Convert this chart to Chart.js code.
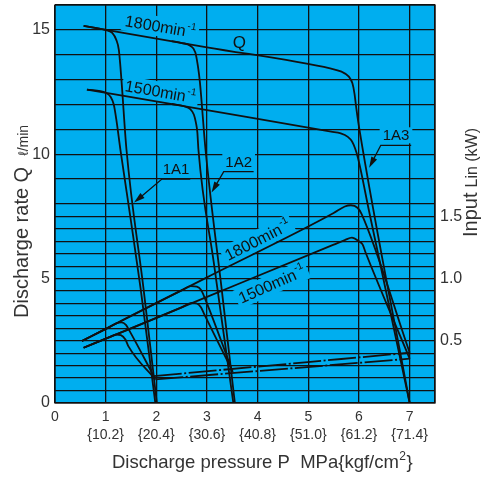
<!DOCTYPE html>
<html>
<head>
<meta charset="utf-8">
<script src="https://cdn.jsdelivr.net/npm/chart.js@4.4.1/dist/chart.umd.min.js"></script>
<style>
  html, body { margin: 0; padding: 0; background: #fff; }
</style>
</head>
<body>
<canvas id="myChart" width="483" height="477"></canvas>
<script>
// tick labels
const pressureTicks = [0, 1, 2, 3, 4, 5, 6, 7];
const kgfLabels = ["10.2", "20.4", "30.6", "40.8", "51.0", "61.2", "71.4"];
const flowTicks = [0, 5, 10, 15];
const inputTicks = [0.5, 1.0, 1.5];

// discharge rate Q (l/min) against pressure P (MPa), [P, Q]
const q1800 = [[0.565, 15.16], [3.0, 14.3], [5.45, 13.44], [5.64, 13.33], [5.8, 13.12], [5.87, 12.85], [5.91, 12.45], [5.95, 11.8], [6.0, 11.1], [7.0, 0]];
const q1500 = [[0.63, 12.6], [3.0, 11.77], [5.45, 10.91], [5.64, 10.84], [5.78, 10.7], [5.86, 10.52], [5.92, 10.25], [5.98, 9.85], [6.2, 7.7], [7.0, 0]];
const q1800a1 = [[0.565, 15.16], [0.99, 15.0], [1.13, 14.88], [1.21, 14.6], [1.26, 14.2], [1.29, 13.55], [1.32, 12.75], [1.41, 10.2], [1.75, 4.55], [2.01, 0]];
const q1500a1 = [[0.63, 12.6], [1.0, 12.47], [1.1, 12.3], [1.16, 12.0], [1.21, 11.4], [1.29, 10.2], [1.5, 7.3], [1.69, 4.6], [1.98, 0]];
const q1800a2 = [[2.3, 14.55], [2.5, 14.47], [2.67, 14.36], [2.77, 14.09], [2.82, 13.55], [2.86, 12.9], [2.97, 10.2], [3.3, 4.4], [3.55, 0]];
const q1500a2 = [[2.3, 12.02], [2.55, 11.93], [2.67, 11.81], [2.74, 11.6], [2.78, 11.28], [2.81, 10.87], [2.83, 10.2], [3.13, 5.7], [3.52, 0]];

// input Lin (kW) against pressure P (MPa), [P, kW]
const in1800 = [[0.53, 0.498], [3.0, 1.01], [5.5, 1.527], [5.72, 1.58], [5.84, 1.59], [5.97, 1.57], [6.05, 1.52], [7.0, 0.404]];
const in1500 = [[0.565, 0.444], [3.0, 0.853], [5.5, 1.273], [5.72, 1.31], [5.86, 1.33], [6.0, 1.30], [6.07, 1.275], [6.13, 1.21], [7.0, 0.356]];
const in1800a1 = [[0.53, 0.498], [1.1, 0.616], [1.22, 0.643], [1.31, 0.648], [1.4, 0.628], [1.49, 0.566], [1.95, 0.216]];
const in1500a1 = [[0.565, 0.444], [1.1, 0.534], [1.2, 0.55], [1.3, 0.545], [1.39, 0.51], [1.45, 0.455], [1.98, 0.19]];
const in1800a2 = [[0.53, 0.498], [2.5, 0.906], [2.68, 0.94], [2.8, 0.935], [2.88, 0.91], [2.95, 0.85], [3.48, 0.28]];
const in1500a2 = [[0.565, 0.444], [2.5, 0.769], [2.7, 0.805], [2.8, 0.8], [2.88, 0.77], [2.95, 0.71], [3.51, 0.25]];
const dead1800 = [[1.95, 0.216], [7.0, 0.404]];
const dead1500 = [[1.98, 0.19], [7.0, 0.356]];

const plotBlue = "#00aeef";
const ink = "#111";
const textInk = "#333";
const family = '"Liberation Sans", Arial, Helvetica, sans-serif';

// horizontal grid: every 0.5 up to 8, then every 1
const flowGrid = [];
for (let v = 0; v <= 8; v += 0.5) flowGrid.push(v);
for (let v = 9; v <= 16; v++) flowGrid.push(v);

const pts = arr => arr.map(([x, y]) => ({ x, y }));

function curve(arr, axis, dash) {
    return {
        data: pts(arr),
        yAxisID: axis,
        borderColor: ink,
        borderWidth: 1.8,
        borderDash: dash || [],
        pointRadius: 0,
        cubicInterpolationMode: "monotone",
        fill: false,
    };
}

// text on the plot
const speedNotes = [
    { text: "1800min", sup: "-1", x: 2.08, y: 15.13, axis: "y", angle: 9.8 },
    { text: "1500min", sup: "-1", x: 2.08, y: 12.51, axis: "y", angle: 9.8 },
    { text: "1800min", sup: "-1", x: 4.0, y: 1.31, axis: "y2", angle: -27 },
    { text: "1500min", sup: "-1", x: 4.28, y: 0.954, axis: "y2", angle: -24 },
];
const modelNotes = [
    { text: "1A1", x1: 2.11, x2: 2.67, y: 9.0, tx: 1.56, ty: 8.06 },
    { text: "1A2", x1: 3.33, x2: 3.92, y: 9.3, tx: 3.09, ty: 8.46 },
    { text: "1A3", x1: 6.43, x2: 7.03, y: 10.36, tx: 6.2, ty: 9.46 },
];

function speedLabel(ctx, cx, cy, note, mask) {
    const size = 16;
    ctx.save();
    ctx.translate(cx, cy);
    ctx.rotate(note.angle * Math.PI / 180);
    ctx.font = size + "px " + family;
    const w1 = ctx.measureText(note.text).width;
    ctx.font = "10px " + family;
    const w2 = ctx.measureText(note.sup).width;
    const w = w1 + w2 + 1;
    if (mask) {
        ctx.fillStyle = plotBlue;
        ctx.fillRect(-w / 2 - 3, -size * 0.62, w + 6, size * 1.24);
    } else {
        ctx.fillStyle = ink;
        ctx.textAlign = "left";
        ctx.textBaseline = "middle";
        ctx.font = size + "px " + family;
        ctx.fillText(note.text, -w / 2, 1);
        ctx.font = "10px " + family;
        ctx.fillText(note.sup, -w / 2 + w1 + 1, -5);
    }
    ctx.restore();
}

const decor = {
    id: "decor",
    beforeDraw(chart) {
        const { ctx, chartArea: a } = chart;
        ctx.save();
        ctx.fillStyle = plotBlue;
        ctx.fillRect(a.left, a.top, a.right - a.left, a.bottom - a.top);
        ctx.restore();
    },
    beforeDatasetsDraw(chart) {
        const { ctx, chartArea: a, scales } = chart;
        speedNotes.forEach(n => {
            speedLabel(ctx, scales.x.getPixelForValue(n.x), scales[n.axis].getPixelForValue(n.y), n, true);
        });
        ctx.save();
        ctx.font = "15px " + family;
        modelNotes.forEach(n => {
            const x1 = scales.x.getPixelForValue(n.x1), x2 = scales.x.getPixelForValue(n.x2);
            const y = scales.y.getPixelForValue(n.y);
            const w = ctx.measureText(n.text).width;
            ctx.fillStyle = plotBlue;
            ctx.fillRect((x1 + x2) / 2 - w / 2 - 3, y - 18, w + 6, 16);
        });
        // frame
        ctx.strokeStyle = ink;
        ctx.lineWidth = 1.3;
        ctx.strokeRect(a.left, a.top, a.right - a.left, a.bottom - a.top);
        ctx.restore();
    },
    afterDatasetsDraw(chart) {
        const { ctx, scales } = chart;
        speedNotes.forEach(n => {
            speedLabel(ctx, scales.x.getPixelForValue(n.x), scales[n.axis].getPixelForValue(n.y), n, false);
        });
        ctx.save();
        ctx.fillStyle = ink;
        ctx.font = "17px " + family;
        ctx.textAlign = "center";
        ctx.textBaseline = "middle";
        ctx.fillText("Q", scales.x.getPixelForValue(3.64), scales.y.getPixelForValue(14.47));

        ctx.font = "15px " + family;
        ctx.strokeStyle = ink;
        ctx.lineWidth = 1.3;
        modelNotes.forEach(n => {
            const x1 = scales.x.getPixelForValue(n.x1), x2 = scales.x.getPixelForValue(n.x2);
            const y = scales.y.getPixelForValue(n.y);
            const tx = scales.x.getPixelForValue(n.tx), ty = scales.y.getPixelForValue(n.ty);
            ctx.fillText(n.text, (x1 + x2) / 2, y - 9);
            ctx.beginPath();
            ctx.moveTo(x2, y);
            ctx.lineTo(x1, y);
            const a = Math.atan2(ty - y, tx - x1);
            ctx.lineTo(tx - 6 * Math.cos(a), ty - 6 * Math.sin(a));
            ctx.stroke();
            ctx.beginPath();
            ctx.moveTo(tx, ty);
            ctx.lineTo(tx - 11 * Math.cos(a) + 3.2 * Math.sin(a), ty - 11 * Math.sin(a) - 3.2 * Math.cos(a));
            ctx.lineTo(tx - 11 * Math.cos(a) - 3.2 * Math.sin(a), ty - 11 * Math.sin(a) + 3.2 * Math.cos(a));
            ctx.closePath();
            ctx.fill();
        });
        ctx.restore();
    },
    afterDraw(chart) {
        const ctx = chart.ctx;
        ctx.save();
        ctx.fillStyle = textInk;
        ctx.textAlign = "left";
        ctx.textBaseline = "alphabetic";

        // left axis title
        ctx.save();
        ctx.translate(28, 318);
        ctx.rotate(-Math.PI / 2);
        ctx.font = "20px " + family;
        ctx.fillText("Discharge rate Q", 0, 0);
        let w = ctx.measureText("Discharge rate Q").width;
        ctx.font = "14px " + family;
        ctx.fillText("\u2113/min", w + 11, 0);
        ctx.restore();

        // right axis title
        ctx.save();
        ctx.translate(477, 237);
        ctx.rotate(-Math.PI / 2);
        ctx.font = "20px " + family;
        ctx.fillText("Input", 0, 0);
        w = ctx.measureText("Input").width;
        ctx.font = "16px " + family;
        ctx.fillText("Lin (kW)", w + 5, 0);
        ctx.restore();

        // x axis title
        ctx.font = "18.5px " + family;
        const main = "Discharge pressure P  MPa{kgf/cm";
        ctx.fillText(main, 112, 468);
        w = ctx.measureText(main).width;
        ctx.font = "12px " + family;
        ctx.fillText("2", 112 + w + 0.5, 460);
        const w2 = ctx.measureText("2").width;
        ctx.font = "18.5px " + family;
        ctx.fillText("}", 112 + w + w2 + 1, 468);
        ctx.restore();
    },
};

const noPad = s => { s.paddingTop = 0; s.paddingBottom = 0; s.paddingLeft = 0; s.paddingRight = 0; };

const config = {
    type: "line",
    data: {
        datasets: [
            curve(q1800, "y"),
            curve(q1500, "y"),
            curve(q1800a1, "y"),
            curve(q1500a1, "y"),
            curve(q1800a2, "y"),
            curve(q1500a2, "y"),
            curve(in1800, "y2"),
            curve(in1500, "y2"),
            curve(in1800a1, "y2"),
            curve(in1500a1, "y2"),
            curve(in1800a2, "y2"),
            curve(in1500a2, "y2"),
            curve(dead1800, "y2", [28, 2.5, 2, 2.5]),
            curve(dead1500, "y2", [28, 2.5, 2, 2.5]),
        ],
    },
    options: {
        responsive: false,
        animation: false,
        devicePixelRatio: 1,
        layout: { padding: { top: 5, left: 0, right: 0, bottom: 0 } },
        plugins: { legend: { display: false }, tooltip: { enabled: false } },
        scales: {
            x: {
                type: "linear",
                min: 0,
                max: 7.5,
                afterBuildTicks: s => { s.ticks = pressureTicks.concat([7.5]).map(v => ({ value: v })); },
                afterFit: s => { s.height = 74; noPad(s); },
                grid: { color: ink, lineWidth: 1.3, drawTicks: false },
                border: { display: false },
                ticks: {
                    padding: 5,
                    color: textInk,
                    autoSkip: false,
                    maxRotation: 0,
                    font: { family: family, size: 14, lineHeight: 1.3 },
                    callback: v => (v === 0 ? "0" : (v >= 1 && v <= 7 ? [String(v), "{" + kgfLabels[v - 1] + "}"] : "")),
                },
            },
            y: {
                type: "linear",
                position: "left",
                min: 0,
                max: 16,
                afterBuildTicks: s => { s.ticks = flowGrid.map(v => ({ value: v })); },
                afterFit: s => { s.width = 55; noPad(s); },
                grid: { color: ink, lineWidth: 1.3, drawTicks: false },
                border: { display: false },
                ticks: {
                    padding: 5,
                    color: textInk,
                    autoSkip: false,
                    font: { family: family, size: 16 },
                    callback: v => (flowTicks.includes(v) ? String(v) : ""),
                },
            },
            y2: {
                type: "linear",
                position: "right",
                min: 0,
                max: 3.2,
                afterBuildTicks: s => { s.ticks = inputTicks.map(v => ({ value: v })); },
                afterFit: s => { s.width = 48; noPad(s); },
                grid: { display: false, drawTicks: false },
                border: { display: false },
                ticks: {
                    padding: 5,
                    color: textInk,
                    font: { family: family, size: 16 },
                    callback: v => v.toFixed(1),
                },
            },
        },
    },
    plugins: [decor],
};

const myChart = new Chart(document.getElementById("myChart"), config);
</script>
</body>
</html>
